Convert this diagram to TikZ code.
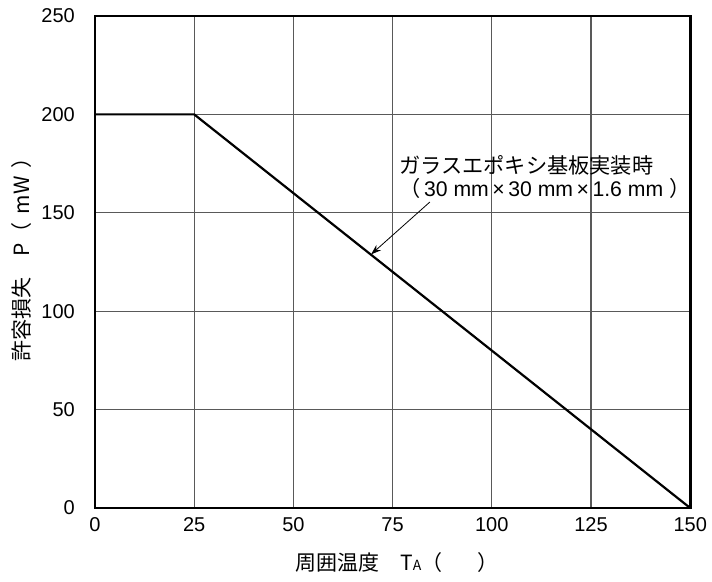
\documentclass[tikz,border=0pt]{standalone}
\usepackage{fontspec}
\setmainfont{Liberation Sans}
\newfontfamily\jp{Noto Sans CJK JP}
\usetikzlibrary{arrows.meta}

\begin{document}
\begin{tikzpicture}[x=1.984pt, y=0.984pt, font=\fontsize{10}{12}\selectfont,
		grid/.style={black!65, line width=0.55pt},
		frame/.style={black, line width=1.3pt},
		curve/.style={black, line width=1.1pt},
		ticklabel/.style={inner sep=0pt},
		jplabel/.style={inner sep=0pt, font=\jp\fontsize{10.5}{12}\selectfont}]
		\useasboundingbox (-23.94,-37.09) rectangle (155.49,258.13);

		% grid
		\foreach \t in {25,50,...,125}
			\draw[grid] (\t,0) -- (\t,250);
		\foreach \p in {50,100,...,200}
			\draw[grid] (0,\p) -- (150,\p);
		\draw[frame] (0,0) rectangle (150,250);

		% tick labels
		\foreach \t in {0,25,...,150}
			\draw (\t,-8.5) node[ticklabel] (tx\t) {\t};
		\foreach \p in {0,50,...,250}
			\draw (-5,\p) node[ticklabel, anchor=east] (ty\p) {\p};

		% derating curve
		\draw (0,200) coordinate (c0);
		\draw (25,200) coordinate (c1);
		\draw (150,0) coordinate (c2);
		\draw[curve] (c0) -- (c1) -- (c2);

		% annotation
		\draw (76.6,179.4) node[anchor=north west, inner sep=0pt, align=left,
			font=\fontsize{10.6}{11}\selectfont] (note)
			{{\jp ガラスエポキシ基板実装時}\\[0.6pt]
			{\jp（}\,30 mm\,×\,30 mm\,×\,1.6 mm\;{\jp）}};
		\draw (84.4,155.5) coordinate (tail);
		\draw (69.6,128.9) coordinate (tip);
		\draw[-{Stealth[length=5pt, width=3.5pt]}, line width=0.4pt] (tail) -- (tip);

		% axis labels
		\draw (-18.4,74.2) node[jplabel, rotate=90, anchor=west] (ylab)
			{許容損失　P（\hspace{4pt}mW\hspace{4pt}）};
		\draw (50.4,-27.9) node[jplabel, anchor=west] (xlab)
			{周囲温度　T{\fontsize{7}{8}\selectfont A}（　\hspace{7pt}）};
	\end{tikzpicture}
\end{document}
